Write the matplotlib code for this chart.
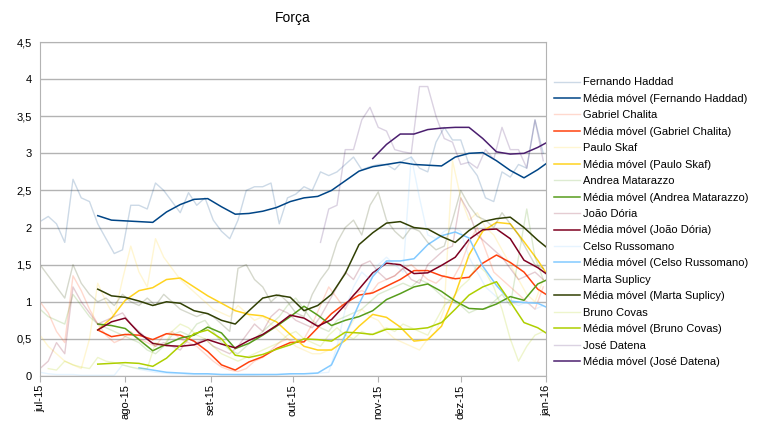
import pandas as pd
import numpy as np
import matplotlib
matplotlib.use('Agg')
import matplotlib.pyplot as plt

plt.rcParams['font.family'] = ['Liberation Sans', 'DejaVu Sans']

nan = np.nan

# dados brutos: a cada 3 dias a partir de 01/07/2015
raw_dates = pd.date_range('2015-07-01', periods=62, freq='3D')
# médias móveis
ma_days = [21, 26, 31, 36, 41, 46, 51, 56, 61, 66, 71, 76, 81, 86, 91, 96, 101,
           106, 111, 116, 121, 126, 131, 136, 141, 146, 151, 156, 161, 166, 171,
           176, 181, 184]
ma_dates = pd.Timestamp('2015-07-01') + pd.to_timedelta(ma_days, unit='D')

haddad = [2.08, 2.15, 2.05, 1.80, 2.65, 2.40, 2.35, 2.05, 1.85, 1.65,
          1.70, 2.30, 2.30, 2.25, 2.60, 2.50, 2.35, 2.20, 2.47, 2.30,
          2.40, 2.10, 1.95, 1.85, 2.10, 2.50, 2.55, 2.55, 2.60, 2.05,
          2.40, 2.45, 2.55, 2.50, 2.75, 2.70, 2.75, 2.85, 2.95, 2.78,
          2.82, 2.85, 2.85, 2.78, 2.90, 2.95, 2.80, 2.75, 3.15, 3.35,
          3.18, 3.18, 2.85, 2.70, 2.40, 2.35, 2.75, 2.68, 2.85, 2.80,
          3.45, 3.00]
chalita = [1.00, 0.85, 0.60, 0.45, 1.35, 1.15, 0.90, 0.70, 0.55, 0.45,
           0.50, 0.60, 0.50, 0.45, 0.40, 0.55, 0.60, 0.50, 0.45, 0.40,
           0.30, 0.20, 0.12, 0.08, 0.06, 0.10, 0.20, 0.25, 0.35, 0.45,
           0.50, 0.45, 0.50, 0.70, 0.95, 1.20, 1.05, 0.90, 1.10, 1.15,
           1.10, 1.25, 1.30, 1.35, 1.45, 1.50, 1.40, 1.30, 1.25, 1.35,
           1.30, 1.50, 1.80, 2.00, 1.70, 1.40, 1.30, 1.20, 1.10, 1.00,
           0.90, 1.20]
skaf = [0.55, 0.40, 0.30, 0.20, 0.15, 0.10, 0.50, 1.25, 1.00, 0.80,
        1.30, 1.75, 1.40, 1.20, 1.85, 1.60, 1.45, 1.30, 1.20, 1.10,
        1.00, 0.90, 0.85, 0.80, 0.95, 0.85, 0.75, 0.80, 0.70, 0.60,
        0.50, 0.40, 0.35, 0.30, 0.30, 0.35, 0.40, 0.55, 0.75, 0.90,
        0.80, 0.75, 0.60, 0.50, 0.45, 0.40, 0.35, 0.50, 0.60, 0.90,
        2.90, 2.40, 2.10, 2.20, 2.00, 1.90, 1.70, 1.50, 1.30, 1.10,
        1.00, 1.30]
matarazzo = [0.90, 0.80, 0.75, 0.70, 1.10, 0.95, 0.80, 0.70, 0.65, 0.60,
             0.55, 0.50, 0.45, 0.35, 0.30, 0.40, 0.55, 0.60, 0.55, 0.70,
             0.75, 0.60, 0.45, 0.35, 0.30, 0.40, 0.50, 0.60, 0.70, 0.80,
             0.95, 1.05, 0.90, 0.75, 0.65, 0.60, 0.75, 0.80, 0.85, 0.90,
             1.00, 1.10, 1.15, 1.20, 1.25, 1.20, 1.30, 1.25, 1.15, 1.05,
             1.00, 0.95, 0.85, 0.90, 0.90, 1.00, 1.10, 0.95, 1.60, 2.25,
             1.60, 1.30]
doria = [0.10, 0.20, 0.45, 0.30, 1.20, 1.00, 0.85, 0.70, 0.75, 0.80,
         0.85, 0.70, 0.60, 0.50, 0.40, 0.45, 0.40, 0.35, 0.50, 0.45,
         0.50, 0.40, 0.35, 0.30, 0.40, 0.55, 0.70, 0.60, 0.80, 0.90,
         0.85, 0.75, 0.70, 0.65, 0.80, 1.00, 1.20, 1.40, 1.30, 1.50,
         1.55, 1.40, 1.30, 1.35, 1.45, 1.30, 1.25, 1.50, 1.60, 1.70,
         1.75, 2.40, 2.20, 1.90, 1.80, 1.70, 1.60, 1.45, 1.30, 1.35,
         1.40, 1.30]
russomano = [0.05, 0.03, 0.02, 0.02, 0.02, 0.01, 0.01, 0.01, 0.01, 0.01,
             0.15, 0.12, 0.09, 0.07, 0.05, 0.04, 0.03, 0.03, 0.02, 0.02,
             0.02, 0.02, 0.02, 0.02, 0.01, 0.01, 0.01, 0.02, 0.02, 0.02,
             0.02, 0.03, 0.03, 0.03, 0.04, 0.05, 0.40, 0.90, 1.20, 1.40,
             1.30, 1.50, 1.60, 1.50, 1.40, 2.95, 2.40, 1.90, 1.85, 1.95,
             2.00, 1.95, 1.60, 1.40, 1.20, 1.10, 1.00, 1.00, 0.95, 1.00,
             0.90, 0.95]
suplicy = [1.50, 1.35, 1.20, 1.05, 1.50, 1.25, 1.10, 1.00, 1.05, 0.95,
           1.10, 1.00, 0.95, 1.05, 0.95, 1.10, 1.00, 0.90, 0.85, 0.80,
           0.85, 0.80, 0.70, 0.60, 1.45, 1.50, 1.30, 1.20, 1.00, 1.10,
           1.00, 0.85, 0.80, 1.10, 1.30, 1.45, 1.80, 2.00, 2.10, 1.90,
           2.30, 2.48, 2.10, 1.95, 1.85, 2.00, 1.95, 1.80, 1.70, 1.75,
           2.10, 2.50, 2.30, 2.15, 2.10, 2.00, 2.20, 2.05, 1.90, 1.70,
           1.50, 1.45]
covas = [nan, 0.10, 0.08, 0.20, 0.15, 0.12, 0.10, 0.25, 0.20, 0.18,
         0.15, 0.12, 0.10, 0.10, 0.45, 0.40, 0.60, 0.70, 0.65, 0.55,
         0.50, 0.40, 0.30, 0.25, 0.20, 0.25, 0.30, 0.35, 0.40, 0.45,
         0.55, 0.60, 0.50, 0.45, 0.40, 0.55, 0.65, 0.55, 0.50, 0.60,
         0.55, 0.60, 0.65, 0.60, 0.70, 0.65, 0.60, 0.55, 0.75, 0.95,
         1.05, 1.20, 1.30, 1.50, 1.40, 1.20, 0.90, 0.50, 0.20, 0.40,
         0.55, 0.60]
datena = [nan] * 34 + [1.80, 2.25, 2.30, 3.05, 3.05, 3.45,
          3.62, 3.35, 3.30, 3.05, 3.02, 3.00, 3.90, 3.90, 3.50, 3.20,
          3.15, 2.85, 2.88, 2.80, 3.05, 2.92, 3.35, 3.05, 3.05, 2.80,
          3.45, 2.90]

haddad_mm = [2.16, 2.10, 2.09, 2.08, 2.07, 2.21, 2.31, 2.38, 2.39, 2.28,
             2.18, 2.19, 2.22, 2.27, 2.35, 2.40, 2.42, 2.50, 2.63, 2.76,
             2.82, 2.85, 2.88, 2.85, 2.84, 2.83, 2.95, 3.00, 3.01, 2.90,
             2.77, 2.67, 2.78, 2.86]
chalita_mm = [0.62, 0.53, 0.56, 0.55, 0.49, 0.57, 0.55, 0.47, 0.33, 0.15,
              0.08, 0.19, 0.26, 0.37, 0.45, 0.46, 0.65, 0.84, 0.98, 1.09,
              1.12, 1.21, 1.30, 1.42, 1.42, 1.35, 1.31, 1.33, 1.52, 1.63,
              1.53, 1.40, 1.17, 1.10]
skaf_mm = [0.62, 0.78, 1.02, 1.15, 1.19, 1.30, 1.32, 1.20, 1.08, 0.98,
           0.88, 0.83, 0.81, 0.73, 0.56, 0.40, 0.35, 0.35, 0.48, 0.67,
           0.83, 0.79, 0.66, 0.47, 0.49, 0.67, 1.10, 1.63, 1.95, 2.07,
           2.05, 1.81, 1.56, 1.39]
matarazzo_mm = [0.70, 0.68, 0.64, 0.49, 0.34, 0.43, 0.51, 0.55, 0.66, 0.58,
                0.37, 0.44, 0.55, 0.67, 0.80, 0.94, 0.82, 0.68, 0.75, 0.80,
                0.88, 1.03, 1.11, 1.20, 1.24, 1.14, 1.01, 0.91, 0.90, 0.97,
                1.07, 1.02, 1.24, 1.29]
doria_mm = [0.62, 0.73, 0.78, 0.58, 0.44, 0.41, 0.40, 0.42, 0.49, 0.43,
            0.38, 0.48, 0.56, 0.68, 0.82, 0.78, 0.67, 0.76, 0.96, 1.17,
            1.39, 1.52, 1.50, 1.38, 1.39, 1.49, 1.60, 1.84, 1.97, 1.98,
            1.85, 1.56, 1.46, 1.38]
russomano_mm = [nan, nan, nan, 0.11, 0.08, 0.05, 0.04, 0.03, 0.03, 0.02,
                0.02, 0.02, 0.02, 0.02, 0.03, 0.03, 0.04, 0.15, 0.55, 0.97,
                1.34, 1.55, 1.55, 1.58, 1.77, 1.89, 1.94, 1.86, 1.48, 1.22,
                1.01, 0.99, 0.98, 0.93]
suplicy_mm = [1.17, 1.08, 1.06, 1.01, 0.95, 1.00, 0.98, 0.88, 0.84, 0.75,
              0.70, 0.88, 1.05, 1.09, 1.06, 0.88, 0.95, 1.10, 1.38, 1.77,
              1.93, 2.06, 2.08, 2.00, 1.98, 1.88, 1.80, 1.96, 2.08, 2.12,
              2.14, 2.00, 1.83, 1.74]
covas_mm = [0.16, 0.17, 0.18, 0.17, 0.13, 0.24, 0.41, 0.57, 0.62, 0.50,
            0.28, 0.25, 0.29, 0.36, 0.42, 0.50, 0.49, 0.47, 0.59, 0.58,
            0.56, 0.63, 0.63, 0.63, 0.65, 0.72, 0.90, 1.09, 1.20, 1.27,
            1.00, 0.72, 0.65, 0.58]
datena_mm = [nan] * 20 + [2.93, 3.12, 3.26, 3.26, 3.32, 3.34, 3.35, 3.35,
                          3.20, 3.02, 2.99, 3.00, 3.08, 3.14]

nomes = ['Fernando Haddad', 'Gabriel Chalita', 'Paulo Skaf', 'Andrea Matarazzo',
         'João Dória', 'Celso Russomano', 'Marta Suplicy', 'Bruno Covas',
         'José Datena']
brutos = [haddad, chalita, skaf, matarazzo, doria, russomano, suplicy, covas, datena]
medias = [haddad_mm, chalita_mm, skaf_mm, matarazzo_mm, doria_mm, russomano_mm,
          suplicy_mm, covas_mm, datena_mm]
cores = ['#004586', '#ff420e', '#ffd320', '#579d1c', '#7e0021', '#83caff',
         '#314004', '#aecf00', '#4b1f6f']

meses = ['jul-15', 'ago-15', 'set-15', 'out-15', 'nov-15', 'dez-15', 'jan-16']

fig = plt.figure(figsize=(7.63, 4.26), dpi=100)
ax = fig.add_axes([40 / 763, 50 / 426, 506 / 763, 334 / 426])

for nome, bruto, media, cor in zip(nomes, brutos, medias, cores):
    ax.plot(raw_dates, bruto, color=cor, alpha=0.2, lw=1.0, label=nome)
    ax.plot(ma_dates, media, color=cor, lw=1.1, label='Média móvel (' + nome + ')')

ax.set_ylim(0, 4.5)
ax.set_yticks(np.arange(0, 4.51, 0.5))
ax.set_yticklabels(['0', '0,5', '1', '1,5', '2', '2,5', '3', '3,5', '4', '4,5'],
                   fontsize=8)
ax.set_xlim(pd.Timestamp('2015-07-01'), pd.Timestamp('2016-01-01'))
ticks = pd.date_range('2015-07-01', '2016-01-01', freq='MS')
ax.set_xticks(ticks)
ax.set_xticklabels(meses, rotation=90, fontsize=8)
ax.grid(axis='y', color='#b3b3b3', lw=1)
ax.set_axisbelow(True)
for s in ax.spines.values():
    s.set_color('#b3b3b3')
ax.tick_params(axis='x', length=4, color='#b3b3b3', pad=2)
ax.tick_params(axis='y', length=0, pad=6)

fig.text(293 / 763, 1 - 18 / 426, 'Força', ha='center', va='center', fontsize=10)

fig.legend(loc='upper left', bbox_to_anchor=(550 / 763, 1 - 73 / 426),
           frameon=False, fontsize=8, handlelength=2.3, handletextpad=0.3,
           labelspacing=0.58, borderaxespad=0)

plt.savefig('out.png', dpi=100)
